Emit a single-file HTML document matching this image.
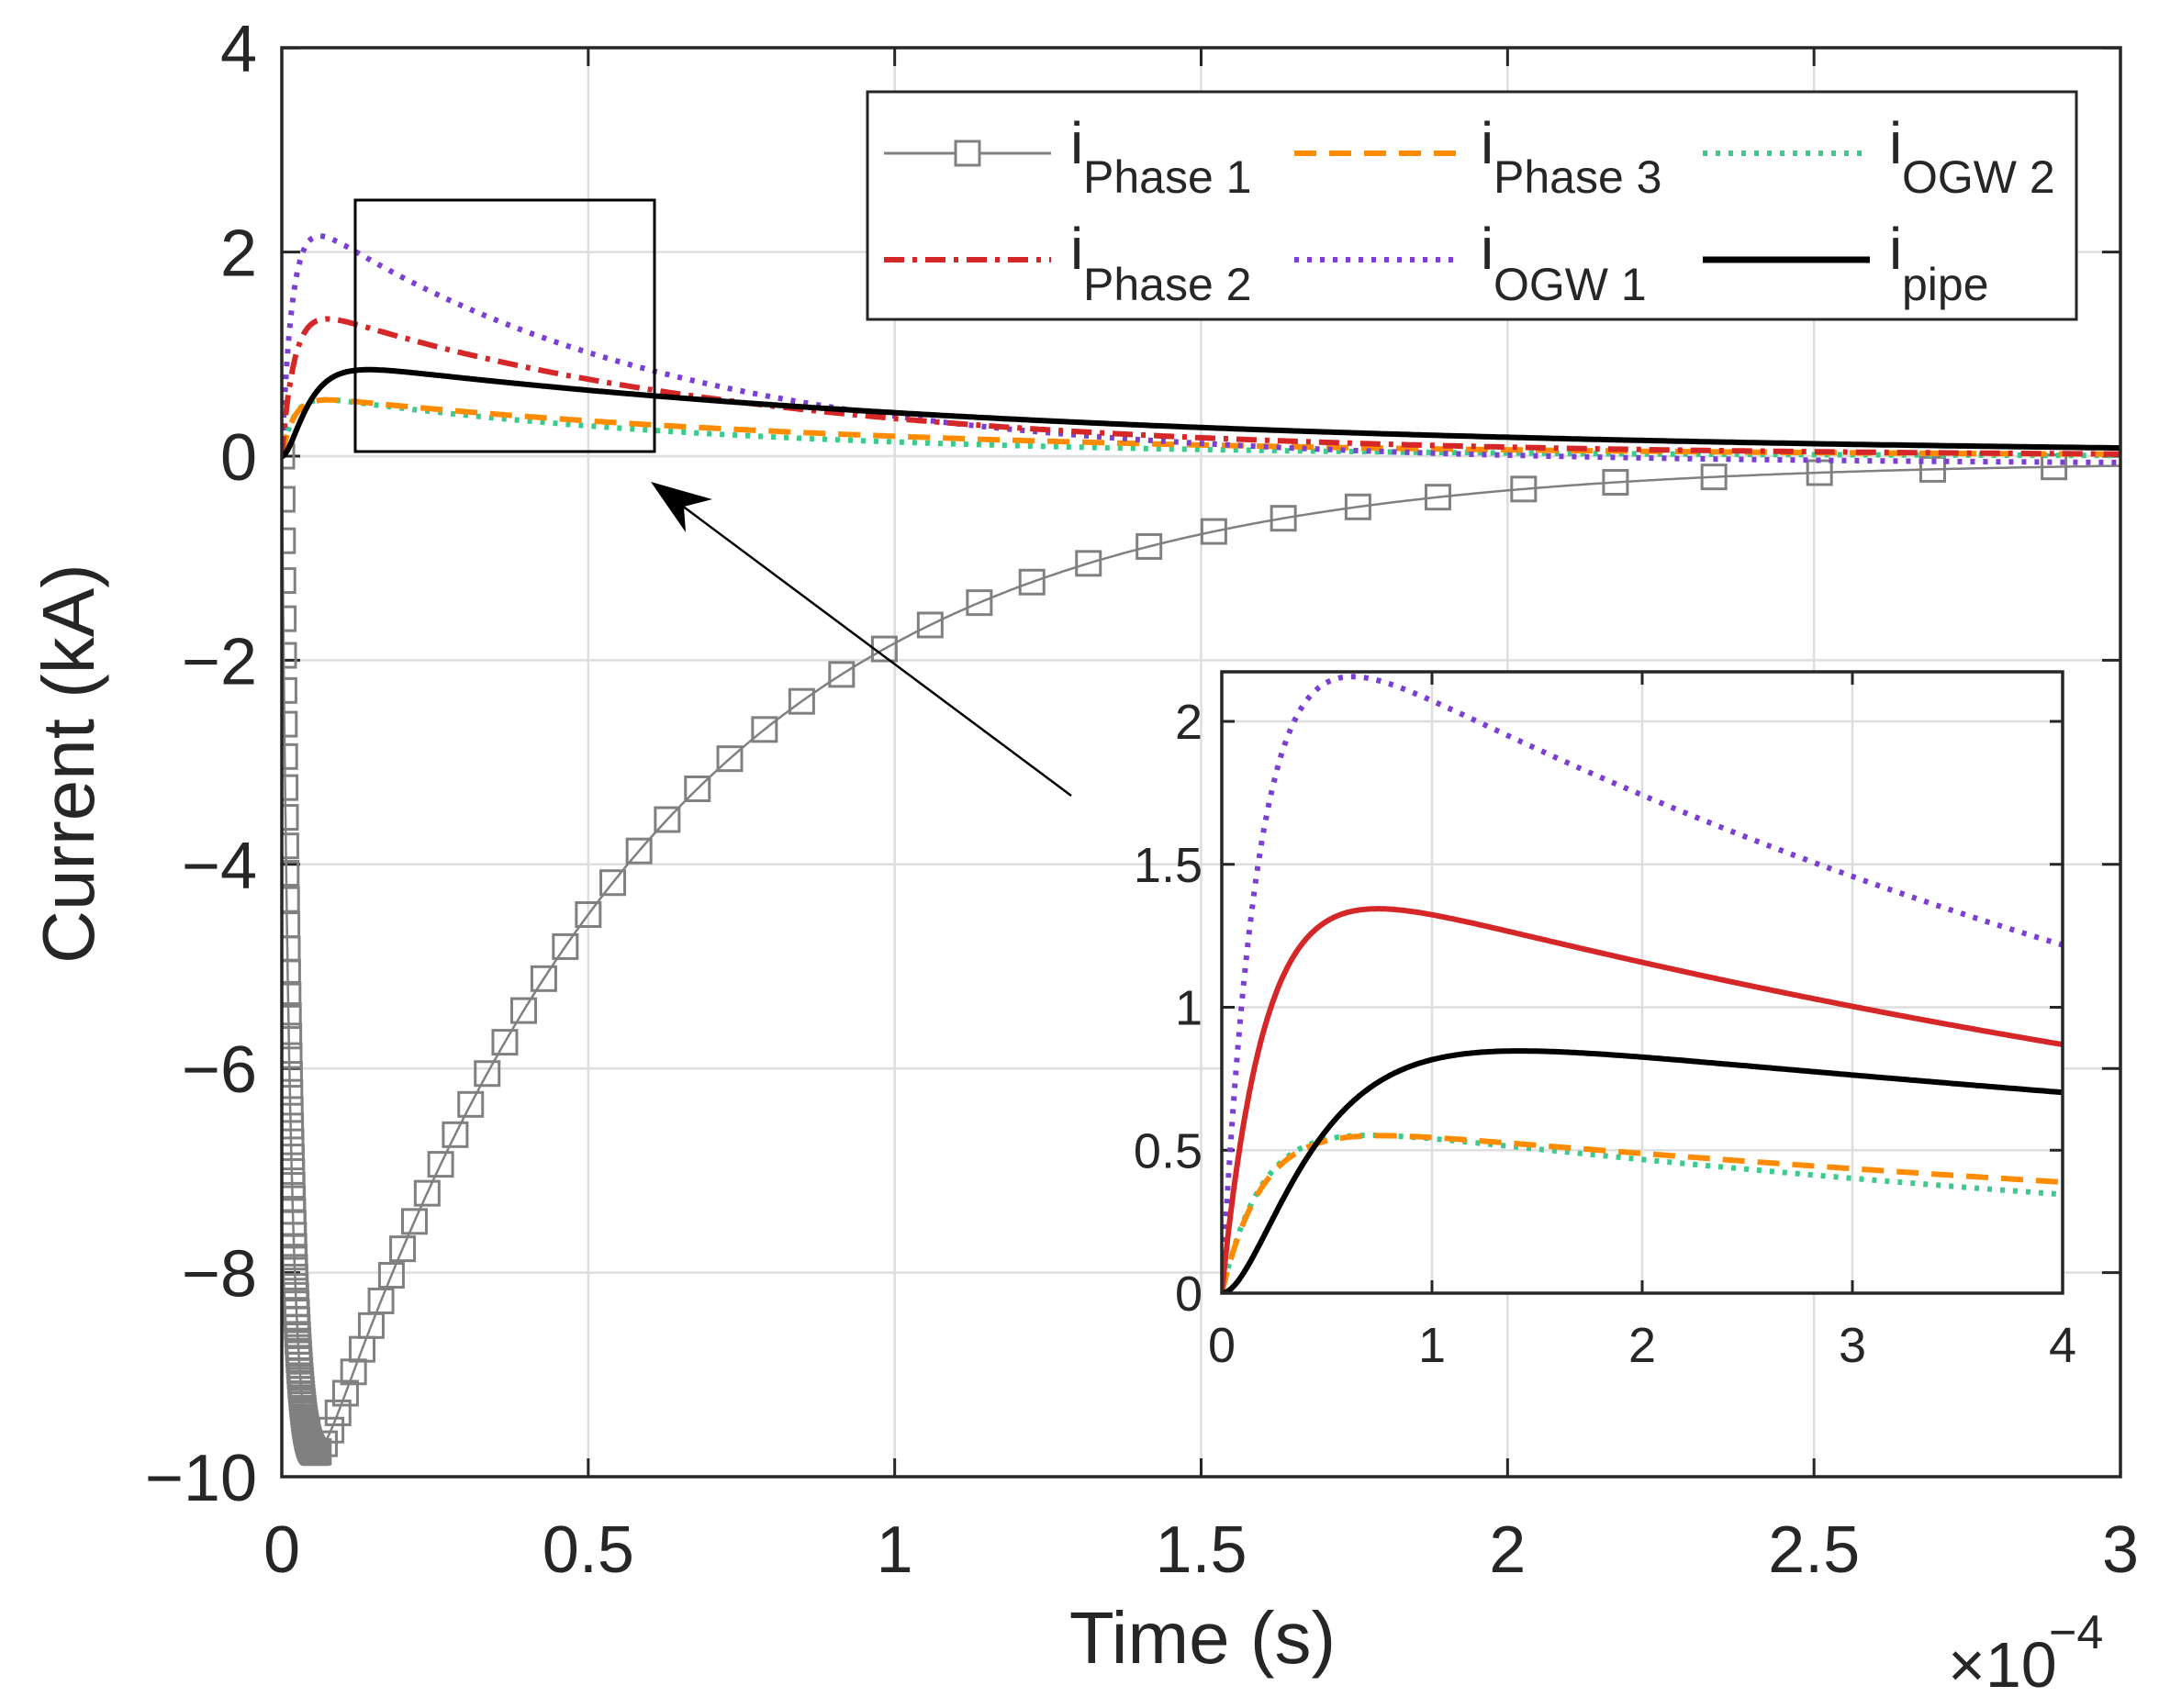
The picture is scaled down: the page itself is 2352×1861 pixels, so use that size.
<!DOCTYPE html>
<html><head><meta charset="utf-8"><style>
html,body{margin:0;padding:0;background:#fff}
svg{display:block}
text{font-family:"Liberation Sans",Arial,sans-serif;fill:#262626}
</style></head><body>
<svg id="s" width="2352" height="1861" viewBox="0 0 2352 1861" xmlns="http://www.w3.org/2000/svg">
<rect width="2352" height="1861" fill="#fff"/>
<defs>
<clipPath id="cm"><rect x="307" y="52" width="2003" height="1558"/></clipPath>
<clipPath id="ci"><rect x="1331" y="732" width="916" height="677"/></clipPath>
</defs>
<g id="main"></g>
<g id="inset"></g>
<g id="ann"></g>
</svg>
<script>
const NS="http://www.w3.org/2000/svg";
function el(p,t,a,txt){const e=document.createElementNS(NS,t);for(const k in a)e.setAttribute(k,a[k]);if(txt!==undefined)e.textContent=txt;p.appendChild(e);return e;}
const M=document.getElementById('main'),I=document.getElementById('inset'),A=document.getElementById('ann');
const L=307,R=2310,T=52,B=1609;
const X=t=>L+t*(R-L)/3, Y=v=>497-v*111.2;
for(let i=0;i<=6;i++){const x=X(i*0.5);if(i>0&&i<6)el(M,'line',{x1:x,y1:T,x2:x,y2:B,stroke:'#dedede','stroke-width':2.5});
 el(M,'text',{x:x,y:1713,'font-size':72,'text-anchor':'middle'},['0','0.5','1','1.5','2','2.5','3'][i]);}
for(let v=-10;v<=4;v+=2){const y=Y(v);if(v>-10&&v<4)el(M,'line',{x1:L,y1:y,x2:R,y2:y,stroke:'#dedede','stroke-width':2.5});
 el(M,'text',{x:280,y:y+26,'font-size':72,'text-anchor':'end'},(v<0?'\u2212'+(-v):''+v));}
for(let i=0;i<=6;i++){const x=X(i*0.5);el(M,'line',{x1:x,y1:B,x2:x,y2:B-20,stroke:'#262626','stroke-width':3});el(M,'line',{x1:x,y1:T,x2:x,y2:T+20,stroke:'#262626','stroke-width':3});}
for(let v=-10;v<=4;v+=2){const y=Y(v);el(M,'line',{x1:L,y1:y,x2:L+20,y2:y,stroke:'#262626','stroke-width':3});el(M,'line',{x1:R,y1:y,x2:R-20,y2:y,stroke:'#262626','stroke-width':3});}
const fP=t=>2.48*Math.exp(-t/5.8)*(1-Math.exp(-t/0.177))-0.08*(1-Math.exp(-t/10));
const fR=t=>1.54*Math.exp(-t/7)*(1-Math.exp(-t/0.21));
const fK=t=>0.98*Math.exp(-t/12)*Math.pow(1-Math.exp(-t/0.33),2);
const fO=t=>0.615*Math.exp(-t/8.7)*(1-Math.exp(-t/0.2));
const fG=t=>0.633*Math.exp(-t/6.6)*(1-Math.exp(-t/0.2));
const f1=t4=>-11.1*(Math.exp(-t4/0.55)-Math.exp(-t4/0.015))-0.05*(1-Math.exp(-t4));
function path(f,xf,yf,t0,t1,n,tx){let d='';for(let i=0;i<=n;i++){const u=i/n;const t=t0+(t1-t0)*Math.pow(u,2);d+=(i?'L':'M')+xf(tx(t)).toFixed(1)+','+yf(f(t)).toFixed(1);}return d;}
const gm=el(M,'g',{'clip-path':'url(#cm)'});
el(gm,'path',{d:path(f1,X,Y,0,3,800,t=>t),fill:'none',stroke:'#808080','stroke-width':2.5});
let ts=[];let t=0.5,dt=0.04;while(t<2.95){ts.push(t);t+=dt;dt*=1.072;}
t=0.5;dt=0.04/1.068;while(t>0.06){t-=dt;ts.push(t);dt/=1.068;if(dt<0.0025)dt=0.0025;}
for(let s=0;s<0.06;s+=0.0006)ts.push(s);
for(const s of ts){el(gm,'rect',{x:X(s)-13,y:Y(f1(s))-13,width:26,height:26,fill:'none',stroke:'#808080','stroke-width':3});}
const ser=[[fG,'#3ccb8c','5 9',6],[fO,'#ff8c00','24 14',6],[fP,'#7b3fd4','5 9',6],[fR,'#d62728','22 9 5 9',6],[fK,'#000','',6]];
for(const s of ser){const a={d:path(s[0],t5=>X(t5/10),Y,0,30,600,t=>t),fill:'none',stroke:s[1],'stroke-width':s[3]};if(s[2])a['stroke-dasharray']=s[2];el(gm,'path',a);}
el(M,'rect',{x:L,y:T,width:R-L,height:B-T,fill:'none',stroke:'#262626','stroke-width':3.5});
el(M,'text',{x:1310,y:1812,'font-size':80,'text-anchor':'middle'},'Time (s)');
el(M,'text',{x:0,y:0,'font-size':80,'text-anchor':'middle',transform:'translate(102,832) rotate(-90)'},'Current (kA)');
el(M,'text',{x:2122,y:1838,'font-size':70},'\u00d710');
el(M,'text',{x:2232,y:1796,'font-size':52},'\u22124');
el(A,'rect',{x:387,y:218,width:326,height:274,fill:'none',stroke:'#000','stroke-width':3});
el(A,'line',{x1:1167,y1:867,x2:735,y2:545,stroke:'#000','stroke-width':2.5});
el(A,'path',{d:'M709,525 L776,544 L745,552 L747,580 Z',fill:'#000'});
el(A,'rect',{x:945,y:100,width:1317,height:248,fill:'#fff',stroke:'#262626','stroke-width':3});
const cols=[963,1410,1855],ix=[1166,1613,2058],rows=[167,283];
const items=[[0,0,'Phase 1','p1'],[1,0,'Phase 3',1],[2,0,'OGW 2',0],[0,1,'Phase 2',3],[1,1,'OGW 1',2],[2,1,'pipe',4]];
for(const it of items){const x0=cols[it[0]],y=rows[it[1]];
 if(it[3]==='p1'){el(A,'line',{x1:x0,y1:y,x2:x0+182,y2:y,stroke:'#808080','stroke-width':3});el(A,'rect',{x:x0+78,y:y-13,width:26,height:26,fill:'#fff',stroke:'#808080','stroke-width':3});}
 else{const s=ser[it[3]];const a={x1:x0,y1:y,x2:x0+182,y2:y,stroke:s[1],'stroke-width':s[0]===fK?7:6};if(s[2])a['stroke-dasharray']=s[2];el(A,'line',a);}
 const bl=it[1]?293:178;
 el(A,'text',{x:ix[it[0]],y:bl,'font-size':64},'i');
 el(A,'text',{x:ix[it[0]]+14,y:bl+(it[1]?34:32),'font-size':50},it[2]);}
const XI=t=>1331+t*229, YI=v=>1409-v*311.5;
el(I,'rect',{x:1331,y:732,width:916,height:677,fill:'#fff'});
for(let i=0;i<=4;i++){const x=XI(i);if(i>0&&i<4)el(I,'line',{x1:x,y1:732,x2:x,y2:1409,stroke:'#dedede','stroke-width':2.5});
 el(I,'text',{x:x,y:1484,'font-size':54,'text-anchor':'middle'},''+i);
 el(I,'line',{x1:x,y1:1409,x2:x,y2:1395,stroke:'#262626','stroke-width':3});el(I,'line',{x1:x,y1:732,x2:x,y2:746,stroke:'#262626','stroke-width':3});}
for(let k=0;k<=4;k++){const v=k*0.5,y=YI(v);if(k>0)el(I,'line',{x1:1331,y1:y,x2:2247,y2:y,stroke:'#dedede','stroke-width':2.5});
 el(I,'text',{x:1310,y:y+19,'font-size':54,'text-anchor':'end'},['0','0.5','1','1.5','2'][k]);
 el(I,'line',{x1:1331,y1:y,x2:1345,y2:y,stroke:'#262626','stroke-width':3});el(I,'line',{x1:2247,y1:y,x2:2233,y2:y,stroke:'#262626','stroke-width':3});}
const gi=el(I,'g',{'clip-path':'url(#ci)'});
const iser=[[fG,'#3ccb8c','5 9'],[fO,'#ff8c00','24 14'],[fP,'#7b3fd4','5 9'],[fR,'#d62728',''],[fK,'#000','']];
for(const s of iser){const a={d:path(s[0],XI,YI,0,4,400,t=>t),fill:'none',stroke:s[1],'stroke-width':6};if(s[2])a['stroke-dasharray']=s[2];el(gi,'path',a);}
el(I,'rect',{x:1331,y:732,width:916,height:677,fill:'none',stroke:'#262626','stroke-width':3.5});
</script>
</body></html>
